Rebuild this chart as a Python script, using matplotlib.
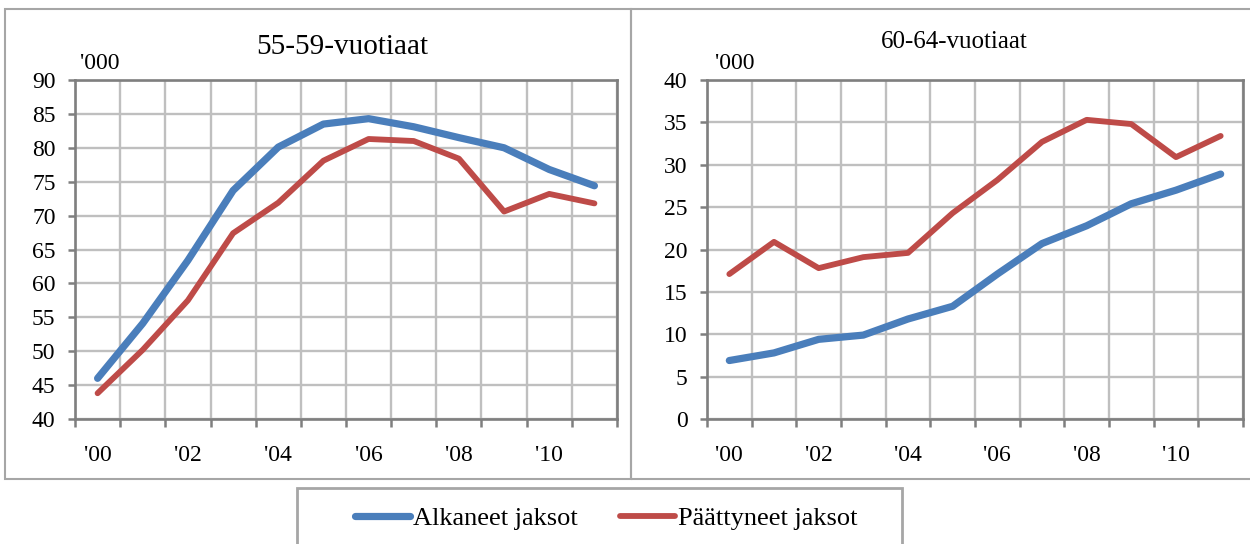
import numpy as np
import matplotlib
matplotlib.use("Agg")
from matplotlib import pyplot as plt
from matplotlib.patches import Rectangle

plt.rcParams['font.family'] = ['Liberation Serif', 'DejaVu Serif']

years = ["'00", "'01", "'02", "'03", "'04", "'05", "'06", "'07", "'08", "'09", "'10", "'11"]

# 55-59-vuotiaat, tuhansia
alkaneet_55 = [46.0, 54.1, 63.4, 73.7, 80.1, 83.5, 84.3, 83.1, 81.5, 80.0, 76.8, 74.4]
paattyneet_55 = [43.8, 50.2, 57.5, 67.4, 71.9, 78.1, 81.3, 81.0, 78.4, 70.6, 73.2, 71.8]

# 60-64-vuotiaat, tuhansia
alkaneet_60 = [6.9, 7.8, 9.4, 9.9, 11.8, 13.3, 17.1, 20.7, 22.8, 25.4, 27.0, 28.9]
paattyneet_60 = [17.1, 20.9, 17.8, 19.1, 19.6, 24.3, 28.2, 32.7, 35.3, 34.8, 30.9, 33.4]

blue = "#4a7ebb"
red = "#be4b48"
grid_c = "#bfbfbf"
frame_c = "#7f7f7f"
box_c = "#a6a6a6"

fig = plt.figure(figsize=(12.5, 5.44), dpi=100)

# paneelien kehykset
fig.add_artist(Rectangle((5/1250, 1-479/544), 626/1250, 470/544, transform=fig.transFigure,
                         fill=False, edgecolor=box_c, lw=1.5))
fig.add_artist(Rectangle((631/1250, 1-479/544), 630/1250, 470/544, transform=fig.transFigure,
                         fill=False, edgecolor=box_c, lw=1.5))
fig.add_artist(Rectangle((297/1250, -0.05), 605/1250, 1-488/544+0.05, transform=fig.transFigure,
                         fill=False, edgecolor=box_c, lw=2))


def draw_panel(rect, alk, paat, ylim, title, title_pos, title_size, unit_x):
    ax = fig.add_axes(rect)
    x = np.arange(len(years))
    ax.plot(x, alk, color=blue, lw=5.2, solid_capstyle="round", solid_joinstyle="round",
            label="Alkaneet jaksot", zorder=4)
    ax.plot(x, paat, color=red, lw=4.2, solid_capstyle="round", solid_joinstyle="round",
            label="Päättyneet jaksot", zorder=3)
    ax.set_xlim(-0.5, len(years) - 0.5)
    ax.set_ylim(*ylim)
    ax.set_yticks(np.arange(ylim[0], ylim[1] + 1, 5))
    ax.set_xticks(x[::2])
    ax.set_xticklabels(years[::2])
    ax.set_xticks(np.arange(-0.5, len(years), 1), minor=True)
    ax.tick_params(axis="x", which="major", length=0, pad=19, labelsize=17)
    ax.tick_params(axis="x", which="minor", length=6, width=1.8, color=frame_c)
    ax.tick_params(axis="y", length=5, width=1.8, color=frame_c, pad=9, labelsize=17)
    ax.grid(True, axis="x", which="minor", color=grid_c, lw=1.7, zorder=0)
    ax.grid(True, axis="y", which="major", color=grid_c, lw=1.7, zorder=0)
    ax.set_axisbelow(True)
    for s in ax.spines.values():
        s.set_color(frame_c)
        s.set_linewidth(1.9)
    fig.text(title_pos[0], title_pos[1], title, ha="center", va="center", fontsize=title_size)
    fig.text(unit_x, 0.884, "'000", ha="left", va="center", fontsize=17)
    return ax


ax1 = draw_panel([75/1250, 1-419/544, 542/1250, 339/544], alkaneet_55, paattyneet_55, (40, 90),
                 "55-59-vuotiaat", (342/1250, 1-47/544), 21, 80/1250)
ax2 = draw_panel([707/1250, 1-419/544, 536/1250, 339/544], alkaneet_60, paattyneet_60, (0, 40),
                 "60-64-vuotiaat", (954/1250, 1-42/544), 18, 715/1250)

handles, labels = ax1.get_legend_handles_labels()
fig.legend(handles, labels, loc="center", bbox_to_anchor=(606/1250, 1-518/544), ncol=2,
           frameon=False, fontsize=19, handlelength=2.1, handletextpad=0.1, columnspacing=1.6,
           borderpad=0, borderaxespad=0)

fig.savefig("out.png", dpi=100)
